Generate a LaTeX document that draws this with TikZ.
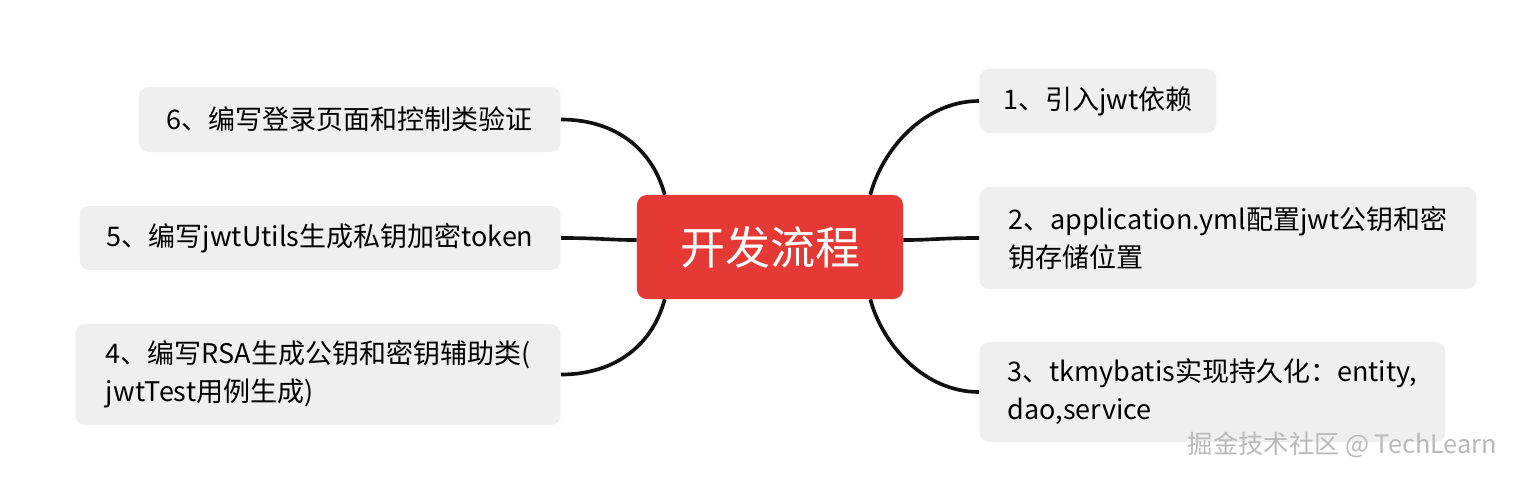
\documentclass[tikz,border=0pt]{standalone}
\usepackage{fontspec}
\setmainfont{Noto Sans CJK SC}
\usetikzlibrary{positioning}
\definecolor{topicred}{HTML}{E53935}
\definecolor{leafgray}{HTML}{EFEFEF}
\definecolor{linkblack}{HTML}{111111}

\begin{document}
\begin{tikzpicture}[
  x=0.025cm, y=-0.025cm,
  topic/.style={rectangle, rounded corners=7pt, fill=topicred, text=white,
    minimum width=6.65cm, minimum height=2.6cm, font=\fontsize{32}{38}\selectfont},
  leaf/.style={rectangle, rounded corners=7pt, fill=leafgray, text=black,
    align=left, font=\fontsize{19.2}{27}\selectfont},
  link/.style={line width=2.6pt, linkblack}
]
\useasboundingbox (0,0) rectangle (1518,476);

% Central topic
\node[topic] (flow) at (770,247) {开发流程};

% Right branches
\node[leaf, anchor=west, minimum width=5.925cm, minimum height=1.6cm] (b1) at (979,101) {1、引入jwt依赖};
\node[leaf, anchor=west, minimum width=12.425cm, minimum height=2.55cm] (b2) at (979,238) {2、application.yml配置jwt公钥和密\\钥存储位置};
\node[leaf, anchor=west, minimum width=11.65cm, minimum height=2.5cm] (b3) at (979,392) {3、tkmybatis实现持久化：entity,\\dao,service};

% Left branches
\node[leaf, anchor=east, minimum width=10.55cm, minimum height=1.625cm] (b6) at (561,119.5) {6、编写登录页面和控制类验证};
\node[leaf, anchor=east, minimum width=12.025cm, minimum height=1.6cm] (b5) at (561,238) {5、编写jwtUtils生成私钥加密token};
\node[leaf, anchor=east, minimum width=12.125cm, minimum height=2.525cm] (b4) at (561,374.5) {4、编写RSA生成公钥和密钥辅助类(\\jwtTest用例生成)};

% Connectors
\draw[link] ([xshift=-0.825cm]flow.north east) .. controls +(12,-45) and +(-55,0) .. (b1.west);
\draw[link] ([yshift=0.175cm]flow.east) .. controls +(30,0) and +(-40,0) .. (b2.west);
\draw[link] ([xshift=-0.825cm]flow.south east) .. controls +(12,45) and +(-55,0) .. (b3.west);
\draw[link] ([xshift=0.7cm]flow.north west) .. controls +(-12,-45) and +(55,0) .. (b6.east);
\draw[link] ([yshift=0.175cm]flow.west) .. controls +(-30,0) and +(40,0) .. (b5.east);
\draw[link] ([xshift=0.7cm]flow.south west) .. controls +(-12,45) and +(55,0) .. (b4.east);

% Watermark
\node[anchor=east, text=gray!55, font=\fontsize{18}{20}\selectfont] (mark) at (1502,445) {掘金技术社区 @ TechLearn};

\end{tikzpicture}
\end{document}
